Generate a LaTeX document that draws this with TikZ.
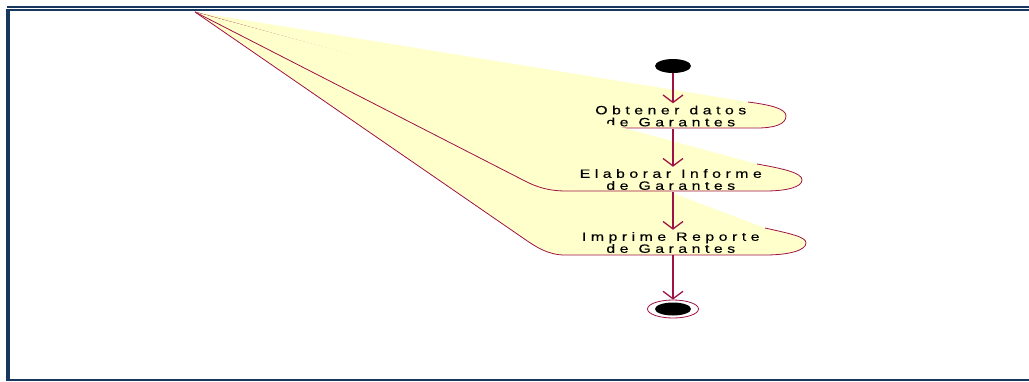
\documentclass[tikz,border=0pt]{standalone}
\usepackage{fontspec}
\usepackage{xcolor}
\usepackage{tikz}
\usetikzlibrary{shapes.geometric, arrows.meta}

\newfontfamily\rosefont[FakeStretch=1.32, FakeBold=0.3]{Liberation Sans}

% texto espaciado letra a letra
\ExplSyntaxOn
\NewDocumentCommand \espaciado { m }
  {
    \seq_set_split:Nnn \l_tmpa_seq { ~ } { #1 }
    \seq_map_indexed_inline:Nn \l_tmpa_seq
      {
        \int_compare:nNnT { ##1 } > { 1 } { \c_space_tl \kern 1.5pt }
        \tl_map_inline:nn { ##2 } { ####1 \kern 4.5pt }
      }
  }
\ExplSyntaxOff

\definecolor{rosarojo}{RGB}{158,18,70}
\definecolor{rosaamarillo}{RGB}{255,255,204}
\definecolor{marcoazul}{RGB}{23,55,94}

\begin{document}
\begin{tikzpicture}[x=1pt, y=1pt, every node/.style={inner sep=0pt}]
        % Estilos del diagrama de actividades
        \tikzstyle{actividad} = [rectangle, text width=220pt, align=center, minimum height=25pt,
                                 font=\rosefont\fontsize{12}{12}\selectfont]
        \tikzstyle{borde} = [rosarojo, line width=0.8pt, fill=rosaamarillo]
        \tikzstyle{flecha} = [rosarojo, line width=1.4pt, -{Straight Barb[length=7.5pt, width=20pt, line width=1.3pt]}]
        \tikzstyle{inicial} = [ellipse, fill=black, minimum width=36pt, minimum height=14pt]
        \tikzstyle{final} = [ellipse, draw=rosarojo, line width=0.8pt, fill=white, minimum width=51pt, minimum height=18pt]
        \tikzstyle{nucleo} = [ellipse, fill=black, minimum width=36pt, minimum height=13pt]
        \tikzstyle{marco} = [marcoazul]

        \useasboundingbox (0,0) rectangle (1029,-381);
        \coordinate (apice) at (195,-12);

        % Estado: Obtener datos
        \draw [borde] (748,-102) .. controls (772,-105) and (786,-109) .. (786,-116)
              .. controls (786,-124) and (775,-128) .. (757,-128) -- (605,-128)
              .. controls (585,-128) and (575,-117) .. (560,-113) -- (apice);
        \node (obtener) [actividad] at (673,-116) {\espaciado{Obtener datos}\\\espaciado{de Garantes}};

        % Estado: Imprime Reporte
        \draw [borde] (765,-228) .. controls (792,-234) and (806,-237) .. (806,-243)
              .. controls (806,-250) and (790,-255) .. (765,-255) -- (565,-255)
              .. controls (548,-255) and (536,-247) .. (523,-238) -- (apice);
        \node (imprime) [actividad] at (673,-242.5) {\espaciado{Imprime Reporte}\\\espaciado{de Garantes}};

        % Estado: Elaborar Informe
        \draw [borde] (757,-164) .. controls (785,-169) and (802,-173) .. (802,-180)
              .. controls (802,-187) and (787,-191) .. (765,-191) -- (567,-191)
              .. controls (550,-191) and (538,-188) .. (523,-180) -- (apice);
        \node (elaborar) [actividad] at (673,-179.5) {\espaciado{Elaborar Informe}\\\espaciado{de Garantes}};

        % Inicio y fin
        \node (inicio) [inicial] at (673,-66) {};
        \node (fin) [final] at (673,-309) {};
        \node (finnucleo) [nucleo] at (fin) {};

        % Transiciones
        \draw [flecha] (inicio) -- (inicio |- obtener.north);
        \draw [flecha] (inicio |- obtener.south) -- (inicio |- elaborar.north);
        \draw [flecha] (inicio |- elaborar.south) -- (inicio |- imprime.north);
        \draw [flecha] (inicio |- imprime.south) -- (fin);

        % Marco
        \fill [marco] (7,-6) rectangle (1029,-8);
        \fill [marco] (6,-9.3) rectangle (1029,-11.3);
        \fill [marco] (6,-9.3) rectangle (10,-381);
        \fill [marco] (6,-378.7) rectangle (1029,-381);
    \end{tikzpicture}
\end{document}
